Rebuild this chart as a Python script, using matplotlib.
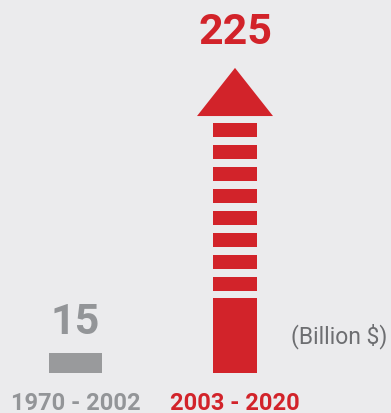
import matplotlib.pyplot as plt
from matplotlib.patches import Polygon

# Data
periods = ['1970 - 2002', '2003 - 2020']
values = [15, 225]
unit_label = '(Billion $)'

bg = '#ebebed'
gray = '#999a9c'
red = '#d2232a'
colors = [gray, red]

plt.rcParams['font.family'] = ['Roboto', 'DejaVu Sans']

fig = plt.figure(figsize=(3.91, 4.14), dpi=100, facecolor=bg)
ax = fig.add_axes([0, 0, 1, 1], facecolor=bg)

# pixel -> data scale (baseline 40px above bottom)
px_y = 1.356
px_x = 159.5
ax.set_ylim(-40 / px_y, 374 / px_y)
ax.set_xlim(-75.5 / px_x, 1 + (391 - 235) / px_x)

# gray bar
ax.bar(0, values[0], width=53 / px_x, color=gray)

# red arrow: solid block, stripes and head
head_h = 35.5
top = values[1]
shaft_top = top - head_h
block_top = 55.3
stripe_h = 10.3
period = 16.2
w = 44 / px_x
ax.bar(1, block_top, width=w, color=red)
y = block_top + 5.2
while y + stripe_h < shaft_top - 3:
    ax.bar(1, stripe_h, bottom=y, width=w, color=red)
    y += period
hw = 38 / px_x
ax.add_patch(Polygon([(1 - hw, shaft_top), (1 + hw, shaft_top), (1, top)],
                     closed=True, color=red, lw=0))

# value labels
offsets = [14.4, 18]
for i, v in enumerate(values):
    ax.annotate(str(v), xy=(i, v), xytext=(0, offsets[i]), textcoords='offset points',
                ha='center', va='baseline', fontsize=31, fontweight='bold',
                color='#939598' if i == 0 else red)
    ax.annotate(periods[i], xy=(i, 0), xytext=(0, -26), textcoords='offset points',
                ha='center', va='baseline', fontsize=17, fontweight='bold',
                color='#939598' if i == 0 else red)

ax.text(1 + (291 - 235) / px_x, 28, unit_label, ha='left', va='center',
        fontsize=16.5, color='#6d6e71')

ax.axis('off')
fig.savefig('out.png', dpi=100, facecolor=bg)
